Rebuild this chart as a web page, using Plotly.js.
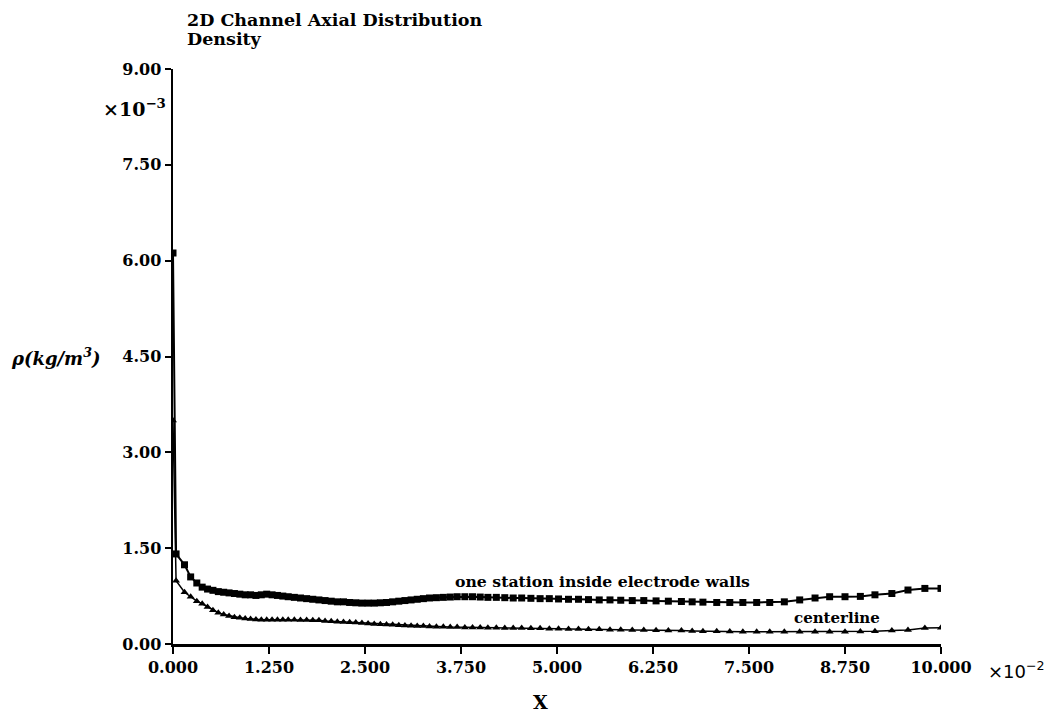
<!DOCTYPE html>
<html>
<head>
<meta charset="utf-8">
<script src="https://cdn.plot.ly/plotly-3.0.1.min.js"></script>
<style>html,body{margin:0;padding:0;background:#fff;}#chart{width:1058px;height:720px;}</style>
</head>
<body>
<div id="chart"></div>
<script>
// x in units of 1e-2, density in units of 1e-3 kg/m^3
const xStation = [0, 0.04, 0.15, 0.23, 0.31, 0.38, 0.45, 0.52, 0.59, 0.66, 0.73, 0.80, 0.87, 0.94, 1.01, 1.08, 1.15, 1.22, 1.29, 1.36, 1.43, 1.50, 1.58, 1.66, 1.74, 1.82, 1.90, 1.98, 2.06, 2.14, 2.22, 2.30, 2.38, 2.46, 2.54, 2.62, 2.70, 2.78, 2.86, 2.94, 3.02, 3.10, 3.18, 3.26, 3.34, 3.43, 3.52, 3.61, 3.70, 3.80, 3.90, 4.00, 4.10, 4.21, 4.32, 4.43, 4.54, 4.66, 4.78, 4.90, 5.02, 5.15, 5.28, 5.41, 5.55, 5.69, 5.83, 5.98, 6.13, 6.29, 6.45, 6.62, 6.76, 6.90, 7.08, 7.25, 7.42, 7.60, 7.77, 7.96, 8.16, 8.36, 8.55, 8.75, 8.95, 9.14, 9.36, 9.57, 9.79, 10.00];
const rhoStation = [6.12, 1.41, 1.24, 1.05, 0.955, 0.89, 0.86, 0.84, 0.82, 0.81, 0.80, 0.79, 0.78, 0.77, 0.77, 0.76, 0.77, 0.78, 0.77, 0.76, 0.75, 0.74, 0.73, 0.72, 0.71, 0.70, 0.69, 0.68, 0.67, 0.66, 0.66, 0.65, 0.645, 0.64, 0.64, 0.64, 0.645, 0.65, 0.66, 0.67, 0.68, 0.69, 0.70, 0.71, 0.72, 0.725, 0.73, 0.735, 0.74, 0.74, 0.74, 0.735, 0.73, 0.73, 0.725, 0.72, 0.72, 0.715, 0.71, 0.71, 0.705, 0.70, 0.70, 0.695, 0.69, 0.69, 0.685, 0.68, 0.68, 0.675, 0.67, 0.665, 0.66, 0.655, 0.65, 0.65, 0.65, 0.65, 0.65, 0.66, 0.69, 0.72, 0.74, 0.74, 0.745, 0.77, 0.79, 0.845, 0.87, 0.87];
const xCenter = xStation;
const rhoCenter = [3.50, 0.99, 0.81, 0.74, 0.67, 0.63, 0.58, 0.53, 0.49, 0.46, 0.44, 0.42, 0.41, 0.40, 0.39, 0.385, 0.38, 0.38, 0.38, 0.38, 0.38, 0.38, 0.38, 0.375, 0.375, 0.37, 0.37, 0.36, 0.355, 0.35, 0.345, 0.34, 0.335, 0.33, 0.32, 0.315, 0.31, 0.305, 0.30, 0.295, 0.29, 0.285, 0.28, 0.28, 0.275, 0.27, 0.27, 0.265, 0.265, 0.26, 0.26, 0.26, 0.255, 0.255, 0.25, 0.25, 0.25, 0.245, 0.245, 0.24, 0.24, 0.235, 0.235, 0.23, 0.23, 0.225, 0.225, 0.22, 0.22, 0.215, 0.21, 0.21, 0.205, 0.20, 0.20, 0.195, 0.19, 0.19, 0.19, 0.19, 0.19, 0.19, 0.19, 0.19, 0.195, 0.20, 0.21, 0.22, 0.25, 0.255];
const xTickVals = [0, 1.25, 2.5, 3.75, 5, 6.25, 7.5, 8.75, 10];
const xTickText = ["0.000", "1.250", "2.500", "3.750", "5.000", "6.250", "7.500", "8.750", "10.000"];
const yTickVals = [0, 1.5, 3, 4.5, 6, 7.5, 9];
const yTickText = ["0.00", "1.50", "3.00", "4.50", "6.00", "7.50", "9.00"];
const titleLine1 = "2D Channel Axial Distribution";
const titleLine2 = "Density";
const labelStation = "one station inside electrode walls";
const labelCenter = "centerline";

const serifBold = {family: "DejaVu Serif", weight: "bold", color: "#000"};
const f = (size, base) => Object.assign({size: size}, base || serifBold);

const traces = [
  {x: xStation, y: rhoStation, mode: "lines+markers", type: "scatter",
   line: {color: "#000", width: 2}, marker: {symbol: "square", size: 7, color: "#000"}},
  {x: xCenter, y: rhoCenter, mode: "lines+markers", type: "scatter",
   line: {color: "#000", width: 1.5}, marker: {symbol: "triangle-up", size: 7, color: "#000"}}
];

const layout = {
  width: 1058, height: 720,
  margin: {l: 173, r: 117, t: 69, b: 76},
  paper_bgcolor: "#fff", plot_bgcolor: "#fff",
  showlegend: false,
  xaxis: {range: [0, 10], tickvals: xTickVals, ticktext: xTickText,
    showgrid: false, zeroline: false, showline: true, linecolor: "#000", linewidth: 2.5,
    ticks: "outside", ticklen: 7, tickwidth: 2, tickcolor: "#000",
    tickfont: f(16)},
  yaxis: {range: [0, 9], tickvals: yTickVals, ticktext: yTickText,
    showgrid: false, zeroline: false, showline: true, linecolor: "#000", linewidth: 2.5,
    ticks: "outside", ticklen: 6, tickwidth: 2, tickcolor: "#000",
    tickfont: f(16)},
  annotations: [
    {xref: "paper", yref: "paper", x: 0.0156, y: 1.085, xanchor: "left", yanchor: "middle",
     showarrow: false, text: titleLine1, font: f(17.5)},
    {xref: "paper", yref: "paper", x: 0.0156, y: 1.052, xanchor: "left", yanchor: "middle",
     showarrow: false, text: titleLine2, font: f(17.5)},
    {xref: "paper", yref: "paper", x: -0.007, y: 0.932, xanchor: "right", yanchor: "middle",
     showarrow: false, text: "×10<sup>−3</sup>", font: f(19)},
    {xref: "paper", yref: "paper", x: 1.058, y: -0.045, xanchor: "left", yanchor: "middle",
     showarrow: false, text: "×10<sup>−2</sup>", font: {family: "DejaVu Sans", size: 18, color: "#000"}},
    {xref: "paper", yref: "paper", x: -0.213, y: 0.499, xanchor: "left", yanchor: "middle",
     showarrow: false, text: "<i>ρ(kg/m<sup>3</sup>)</i>", font: f(18)},
    {xref: "paper", yref: "paper", x: 0.478, y: -0.1, xanchor: "center", yanchor: "middle",
     showarrow: false, text: "X", font: f(19)},
    {xref: "x", yref: "y", x: 3.646, y: 0.986, xanchor: "left", yanchor: "middle",
     showarrow: false, text: labelStation, font: f(15.7)},
    {xref: "x", yref: "y", x: 8.06, y: 0.407, xanchor: "left", yanchor: "middle",
     showarrow: false, text: labelCenter, font: f(15)}
  ]
};

Plotly.newPlot("chart", traces, layout, {displayModeBar: false, staticPlot: true});
</script>
</body>
</html>
